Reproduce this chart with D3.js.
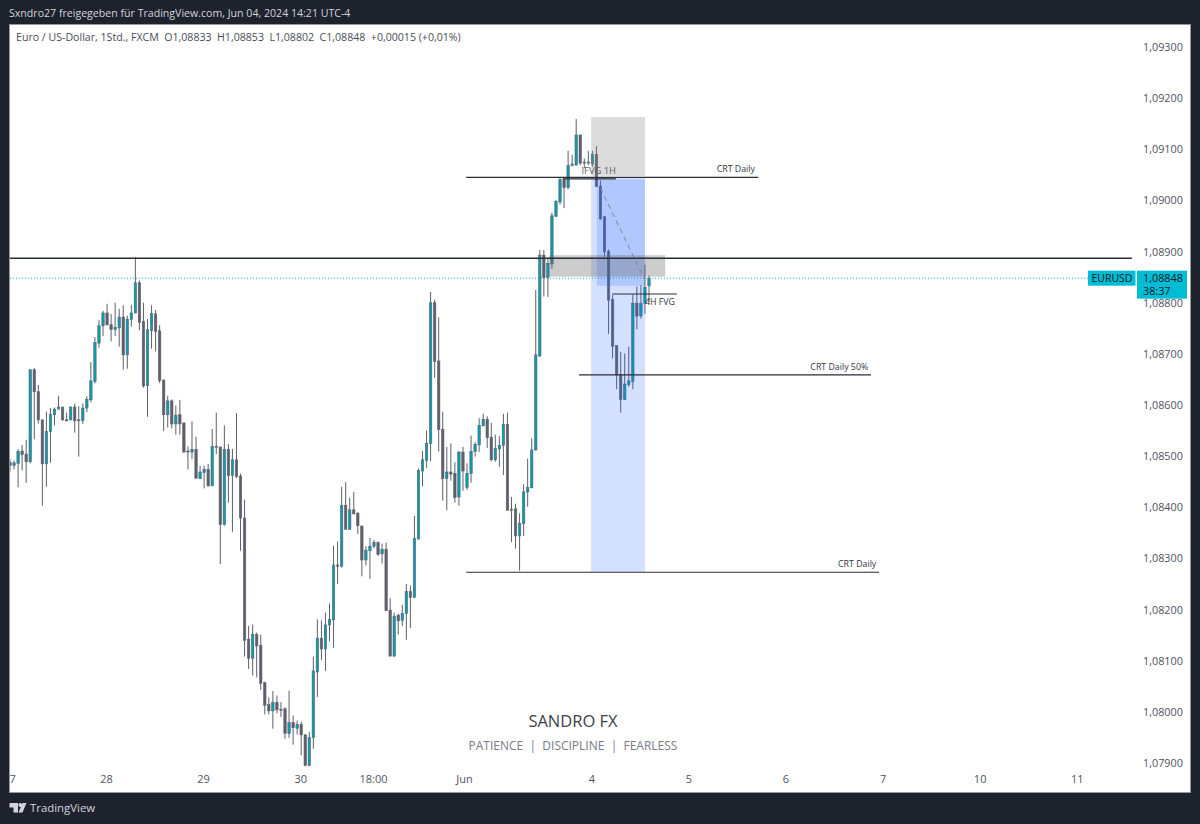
<!DOCTYPE html>
<html>
<head>
<meta charset="utf-8">
<title>EURUSD 1H</title>
<script src="https://cdn.jsdelivr.net/npm/d3@7"></script>
<style>
  html, body { margin: 0; padding: 0; background: #1e222d; }
  svg { display: block; }
  text { font-family: "Open Sans", "DejaVu Sans", sans-serif; }
</style>
</head>
<body>
<div id="chart"></div>
<script>
// Hourly EURUSD candles, oldest first
const opens = [
1.08488,1.08482,1.08486,1.08510,1.08504,1.08489,1.08669,1.08626,1.08571,1.08485,
1.08548,1.08581,1.08592,1.08596,1.08571,1.08571,1.08596,1.08571,1.08570,1.08594,
1.08610,1.08646,1.08721,1.08755,1.08780,1.08757,1.08748,1.08751,1.08772,1.08698,
1.08767,1.08780,1.08839,1.08763,1.08638,1.08746,1.08778,1.08745,1.08649,1.08581,
1.08608,1.08563,1.08581,1.08565,1.08510,1.08508,1.08513,1.08456,1.08468,1.08474,
1.08442,1.08519,1.08518,1.08366,1.08513,1.08462,1.08493,1.08461,1.08379,1.08142,
1.08105,1.08151,1.08130,1.08057,1.08014,1.08002,1.08018,1.08005,1.08006,1.07958,
1.07979,1.07968,1.07975,1.07955,1.07895,1.07950,1.08078,1.08144,1.08123,1.08170,
1.08180,1.08287,1.08285,1.08404,1.08357,1.08395,1.08388,1.08363,1.08297,1.08315,
1.08324,1.08331,1.08309,1.08318,1.08199,1.08109,1.08189,1.08179,1.08192,1.08235,
1.08224,1.08338,1.08471,1.08492,1.08525,1.08800,1.08686,1.08552,1.08456,1.08469,
1.08466,1.08420,1.08508,1.08439,1.08466,1.08509,1.08522,1.08559,1.08572,1.08537,
1.08493,1.08514,1.08521,1.08562,1.08396,1.08397,1.08344,1.08368,1.08430,1.08438,
1.08512,1.08696,1.08893,1.08849,1.08876,1.08969,1.08997,1.09041,1.09025,1.09071,
1.09069,1.09128,1.09075,1.09075,1.09071,1.09090,1.09028,1.08968,1.08900,1.08806,
1.08716,1.08659,1.08611,1.08640,1.08646,1.08799,1.08774,1.08799,1.08833];
const highs = [
1.08494,1.08491,1.08514,1.08522,1.08532,1.08669,1.08672,1.08639,1.08571,1.08587,
1.08594,1.08595,1.08618,1.08596,1.08585,1.08597,1.08603,1.08598,1.08603,1.08617,
1.08684,1.08733,1.08766,1.08784,1.08798,1.08778,1.08800,1.08788,1.08795,1.08775,
1.08796,1.08889,1.08843,1.08800,1.08768,1.08795,1.08786,1.08756,1.08649,1.08618,
1.08611,1.08599,1.08610,1.08565,1.08519,1.08568,1.08538,1.08481,1.08481,1.08485,
1.08553,1.08585,1.08518,1.08560,1.08524,1.08514,1.08584,1.08466,1.08415,1.08168,
1.08171,1.08155,1.08151,1.08059,1.08028,1.08041,1.08032,1.08019,1.08009,1.08041,
1.07993,1.07983,1.07981,1.07956,1.07961,1.08108,1.08181,1.08179,1.08194,1.08212,
1.08325,1.08333,1.08440,1.08449,1.08419,1.08430,1.08391,1.08365,1.08324,1.08340,
1.08336,1.08333,1.08329,1.08331,1.08222,1.08194,1.08192,1.08209,1.08250,1.08247,
1.08383,1.08476,1.08510,1.08550,1.08821,1.08806,1.08771,1.08587,1.08518,1.08525,
1.08488,1.08510,1.08518,1.08486,1.08540,1.08528,1.08574,1.08583,1.08578,1.08565,
1.08542,1.08539,1.08583,1.08585,1.08420,1.08407,1.08388,1.08445,1.08495,1.08535,
1.08825,1.08903,1.08903,1.08887,1.08976,1.09001,1.09045,1.09043,1.09097,1.09089,
1.09159,1.09128,1.09082,1.09097,1.09097,1.09106,1.09039,1.08970,1.08904,1.08815,
1.08716,1.08704,1.08701,1.08714,1.08816,1.08832,1.08834,1.08874,1.08853];
const lows = [
1.08470,1.08474,1.08439,1.08472,1.08448,1.08486,1.08533,1.08564,1.08403,1.08440,
1.08487,1.08560,1.08592,1.08569,1.08568,1.08570,1.08546,1.08499,1.08563,1.08586,
1.08605,1.08642,1.08712,1.08735,1.08755,1.08724,1.08735,1.08714,1.08669,1.08671,
1.08753,1.08779,1.08746,1.08634,1.08577,1.08710,1.08705,1.08643,1.08549,1.08556,
1.08554,1.08542,1.08542,1.08507,1.08474,1.08494,1.08455,1.08455,1.08437,1.08440,
1.08442,1.08504,1.08289,1.08364,1.08409,1.08352,1.08457,1.08315,1.08108,1.08084,
1.08071,1.08067,1.08043,1.07995,1.07995,1.07967,1.07997,1.07990,1.07947,1.07949,
1.07936,1.07956,1.07915,1.07894,1.07894,1.07928,1.08029,1.08101,1.08080,1.08138,
1.08125,1.08250,1.08282,1.08357,1.08356,1.08387,1.08348,1.08265,1.08286,1.08260,
1.08320,1.08305,1.08290,1.08198,1.08109,1.08108,1.08151,1.08168,1.08141,1.08164,
1.08223,1.08337,1.08441,1.08477,1.08490,1.08653,1.08509,1.08413,1.08394,1.08452,
1.08409,1.08403,1.08432,1.08434,1.08448,1.08499,1.08508,1.08559,1.08516,1.08490,
1.08489,1.08479,1.08463,1.08394,1.08332,1.08319,1.08276,1.08344,1.08401,1.08438,
1.08511,1.08694,1.08812,1.08811,1.08866,1.08968,1.08992,1.08985,1.09022,1.09066,
1.09069,1.09069,1.09063,1.09069,1.09066,1.09026,1.08962,1.08890,1.08739,1.08691,
1.08631,1.08585,1.08610,1.08636,1.08631,1.08748,1.08769,1.08778,1.08802];
const closes = [
1.08482,1.08487,1.08509,1.08503,1.08489,1.08669,1.08626,1.08571,1.08485,1.08548,
1.08582,1.08592,1.08596,1.08571,1.08570,1.08596,1.08569,1.08570,1.08594,1.08611,
1.08647,1.08722,1.08755,1.08780,1.08757,1.08748,1.08752,1.08772,1.08698,1.08768,
1.08780,1.08839,1.08761,1.08637,1.08747,1.08779,1.08744,1.08648,1.08581,1.08608,
1.08563,1.08580,1.08563,1.08508,1.08508,1.08513,1.08457,1.08469,1.08474,1.08442,
1.08519,1.08518,1.08366,1.08513,1.08462,1.08493,1.08460,1.08379,1.08140,1.08105,
1.08151,1.08129,1.08056,1.08013,1.08002,1.08018,1.08004,1.08004,1.07958,1.07979,
1.07969,1.07975,1.07955,1.07895,1.07950,1.08080,1.08144,1.08123,1.08170,1.08181,
1.08287,1.08286,1.08404,1.08357,1.08395,1.08387,1.08364,1.08297,1.08316,1.08324,
1.08331,1.08308,1.08318,1.08198,1.08109,1.08187,1.08178,1.08192,1.08235,1.08224,
1.08339,1.08472,1.08493,1.08525,1.08800,1.08685,1.08552,1.08456,1.08469,1.08465,
1.08419,1.08508,1.08471,1.08466,1.08509,1.08523,1.08560,1.08572,1.08536,1.08493,
1.08515,1.08521,1.08562,1.08394,1.08394,1.08344,1.08368,1.08430,1.08439,1.08512,
1.08698,1.08893,1.08849,1.08877,1.08970,1.08998,1.09041,1.09025,1.09068,1.09069,
1.09128,1.09073,1.09073,1.09073,1.09090,1.09027,1.08964,1.08900,1.08805,1.08715,
1.08659,1.08611,1.08641,1.08647,1.08799,1.08774,1.08799,1.08830,1.08848];

// Axis labels
const priceTicks = [1.093,1.092,1.091,1.09,1.089,1.088,1.087,1.086,1.085,1.084,1.083,1.082,1.081,1.08,1.079];
const timeLabels = ["27","28","29","30","18:00","Jun","4","5","6","7","10","11"];
const timeBars = [0,24,48,72,90,112.5,144,168,192,216,240,264];

// Chart drawings, placed by bar number and price
const zones = [
  { from:143.7, to:157, top:1.09163, bottom:1.09048, fill:"#808080", alpha:0.28 },
  { from:143.7, to:157, top:1.09044, bottom:1.08274, fill:"#2962ff", alpha:0.2 },
  { from:145.1, to:157, top:1.09041, bottom:1.08833, fill:"#2962ff", alpha:0.2 },
  { from:133.3, to:162, top:1.08893, bottom:1.08851, fill:"#606060", alpha:0.32 }
];
const levels = [
  { price:1.08887, from:0, to:277.4, width:1.4 },
  { price:1.09045, from:112.8, to:185, width:1.2 },
  { price:1.09042, from:136.7, to:149.8, width:1.2 },
  { price:1.08659, from:140.7, to:212.9, width:1.2 },
  { price:1.08273, from:112.8, to:214.9, width:1.2 },
  { price:1.08817, from:148.9, to:164.9, width:1.2 }
];
const levelNotes = [
  { text:"CRT Daily", bar:184.2, price:1.09045, dy:-5, anchor:"end", color:"#33363f", size:8.8 },
  { text:"IFVG 1H", bar:141.3, price:1.09045, dy:-3, anchor:"start", color:"#5d606b", size:9.4 },
  { text:"CRT Daily 50%", bar:212.2, price:1.08659, dy:-5, anchor:"end", color:"#33363f", size:8.8 },
  { text:"CRT Daily", bar:214.2, price:1.08273, dy:-5, anchor:"end", color:"#33363f", size:8.8 },
  { text:"4H FVG", bar:157, price:1.08817, dy:11, anchor:"start", color:"#33363f", size:8.8 }
];
const pathLine = [ { bar:146, price:1.09024 }, { bar:157, price:1.08844 } ];
const lastPrice = closes[closes.length - 1];

const W = 1200, H = 824;
const plot = { left:10, right:1190, top:25, bottom:792 };

const x = d3.scaleLinear().domain([0, opens.length - 1]).range([10, 649]);
const y = d3.scaleLinear().domain([1.093, 1.079]).range([47, 763]);
const comma = v => d3.format(".5f")(v).replace(".", ",");

const svg = d3.select("#chart").append("svg").attr("width", W).attr("height", H);
svg.append("rect").attr("width", W).attr("height", H).attr("fill", "#1e222d");
svg.append("rect")
  .attr("x", plot.left - 0.5).attr("y", plot.top - 0.5)
  .attr("width", plot.right - plot.left + 1).attr("height", plot.bottom - plot.top + 1)
  .attr("fill", "#ffffff").attr("stroke", "#9598a1");

const defs = svg.append("defs");
defs.append("clipPath").attr("id", "pane").append("rect")
  .attr("x", plot.left).attr("y", plot.top)
  .attr("width", plot.right - plot.left).attr("height", plot.bottom - plot.top);

// Header strip and legend
svg.append("text").attr("x", 9).attr("y", 17).attr("fill", "#d1d4dc")
  .attr("font-size", 10.6).text("Sxndro27 freigegeben für TradingView.com, Jun 04, 2024 14:21 UTC-4");
svg.append("text").attr("x", 16).attr("y", 41).attr("fill", "#4a4d57")
  .attr("font-size", 10.6).attr("xml:space", "preserve")
  .text("Euro / US-Dollar, 1Std., FXCM  O1,08833  H1,08853  L1,08802  C1,08848  +0,00015 (+0,01%)");

const pane = svg.append("g").attr("clip-path", "url(#pane)");

// Last price guide sits under the candles
pane.append("line")
  .attr("x1", plot.left).attr("x2", 1089)
  .attr("y1", y(lastPrice)).attr("y2", y(lastPrice))
  .attr("stroke", "#00bcd4").attr("stroke-width", 1).attr("stroke-dasharray", "1 2");

// Candles
const bars = d3.range(opens.length).map(i => ({
  i, open: opens[i], high: highs[i], low: lows[i], close: closes[i]
}));
const candle = pane.append("g").selectAll("g").data(bars).join("g");
candle.append("line")
  .attr("x1", d => x(d.i)).attr("x2", d => x(d.i))
  .attr("y1", d => y(d.high)).attr("y2", d => y(d.low))
  .attr("stroke", "#5d606b").attr("stroke-width", 1);
candle.append("rect")
  .attr("x", d => x(d.i) - 1.2).attr("width", 2.4)
  .attr("y", d => y(Math.max(d.open, d.close)))
  .attr("height", d => Math.max(1, Math.abs(y(d.open) - y(d.close))))
  .attr("fill", d => d.close >= d.open ? "#00a0b4" : "#5d606b")
  .attr("stroke", "#5d606b").attr("stroke-width", 0.6);

// Shaded zones
pane.append("g").selectAll("rect").data(zones).join("rect")
  .attr("x", d => x(d.from)).attr("width", d => x(d.to) - x(d.from))
  .attr("y", d => y(d.top)).attr("height", d => y(d.bottom) - y(d.top))
  .attr("fill", d => d.fill).attr("fill-opacity", d => d.alpha);

// Horizontal levels and their notes
pane.append("g").selectAll("line").data(levels).join("line")
  .attr("x1", d => x(d.from)).attr("x2", d => x(d.to))
  .attr("y1", d => y(d.price)).attr("y2", d => y(d.price))
  .attr("stroke", "#2a2d35").attr("stroke-width", d => d.width);
pane.append("g").selectAll("text").data(levelNotes).join("text")
  .attr("x", d => x(d.bar)).attr("y", d => y(d.price) + d.dy)
  .attr("text-anchor", d => d.anchor)
  .attr("font-size", d => d.size).attr("fill", d => d.color)
  .text(d => d.text);

// Dashed projection
pane.append("path")
  .attr("d", d3.line().x(d => x(d.bar)).y(d => y(d.price))(pathLine))
  .attr("fill", "none").attr("stroke", "#7d8499").attr("stroke-width", 1)
  .attr("stroke-dasharray", "5 4");

// Signature
pane.append("text").attr("x", 573).attr("y", 727).attr("text-anchor", "middle")
  .attr("font-size", 16.5).attr("fill", "#3c3f49").text("SANDRO FX");
pane.append("text").attr("x", 573).attr("y", 750).attr("text-anchor", "middle")
  .attr("font-size", 12).attr("fill", "#787b86").attr("xml:space", "preserve")
  .text("PATIENCE  |  DISCIPLINE  |  FEARLESS");

// Price axis
const yAxis = svg.append("g").attr("transform", "translate(1143,0)")
  .call(d3.axisRight(y).tickValues(priceTicks).tickFormat(comma).tickSize(0).tickPadding(0));
yAxis.select(".domain").remove();
yAxis.selectAll("text").attr("font-size", 10.8).attr("fill", "#50535e")
  .style("font-family", '"Open Sans", sans-serif');

// Time axis
const xAxis = svg.append("g").attr("clip-path", "url(#pane)").append("g")
  .attr("transform", "translate(-1,775)")
  .call(d3.axisBottom(x).tickValues(timeBars)
    .tickFormat((d, i) => timeLabels[i]).tickSize(0).tickPadding(0));
xAxis.select(".domain").remove();
xAxis.selectAll("text").attr("font-size", 11).attr("fill", "#50535e")
  .style("font-family", '"Open Sans", sans-serif');

// Last price tags
const tagY = y(lastPrice);
svg.append("rect").attr("x", 1088).attr("y", tagY - 7.5).attr("width", 47.5).attr("height", 15).attr("fill", "#00bcd4");
svg.append("text").attr("x", 1112).attr("y", tagY + 4).attr("text-anchor", "middle")
  .attr("font-size", 10.5).attr("fill", "#131722").text("EURUSD");
svg.append("rect").attr("x", 1137).attr("y", tagY - 7.5).attr("width", 50).attr("height", 28).attr("fill", "#00bcd4");
svg.append("text").attr("x", 1143).attr("y", tagY + 4).attr("font-size", 10.8).attr("fill", "#131722").text(comma(lastPrice));
svg.append("text").attr("x", 1143).attr("y", tagY + 17).attr("font-size", 10.8).attr("fill", "#131722").text("38:37");

// Footer brand
svg.append("path")
  .attr("d", "M9.5 803H18V812.5H13.5V807.5H9.5Z M22.5 803H26.5L22.5 812.5H18.5Z")
  .attr("fill", "#d1d4dc");
svg.append("circle").attr("cx", 20.3).attr("cy", 805).attr("r", 1.9).attr("fill", "#d1d4dc");
svg.append("text").attr("x", 30).attr("y", 812).attr("font-size", 11.4).attr("fill", "#d1d4dc").text("TradingView");
</script>
</body>
</html>
